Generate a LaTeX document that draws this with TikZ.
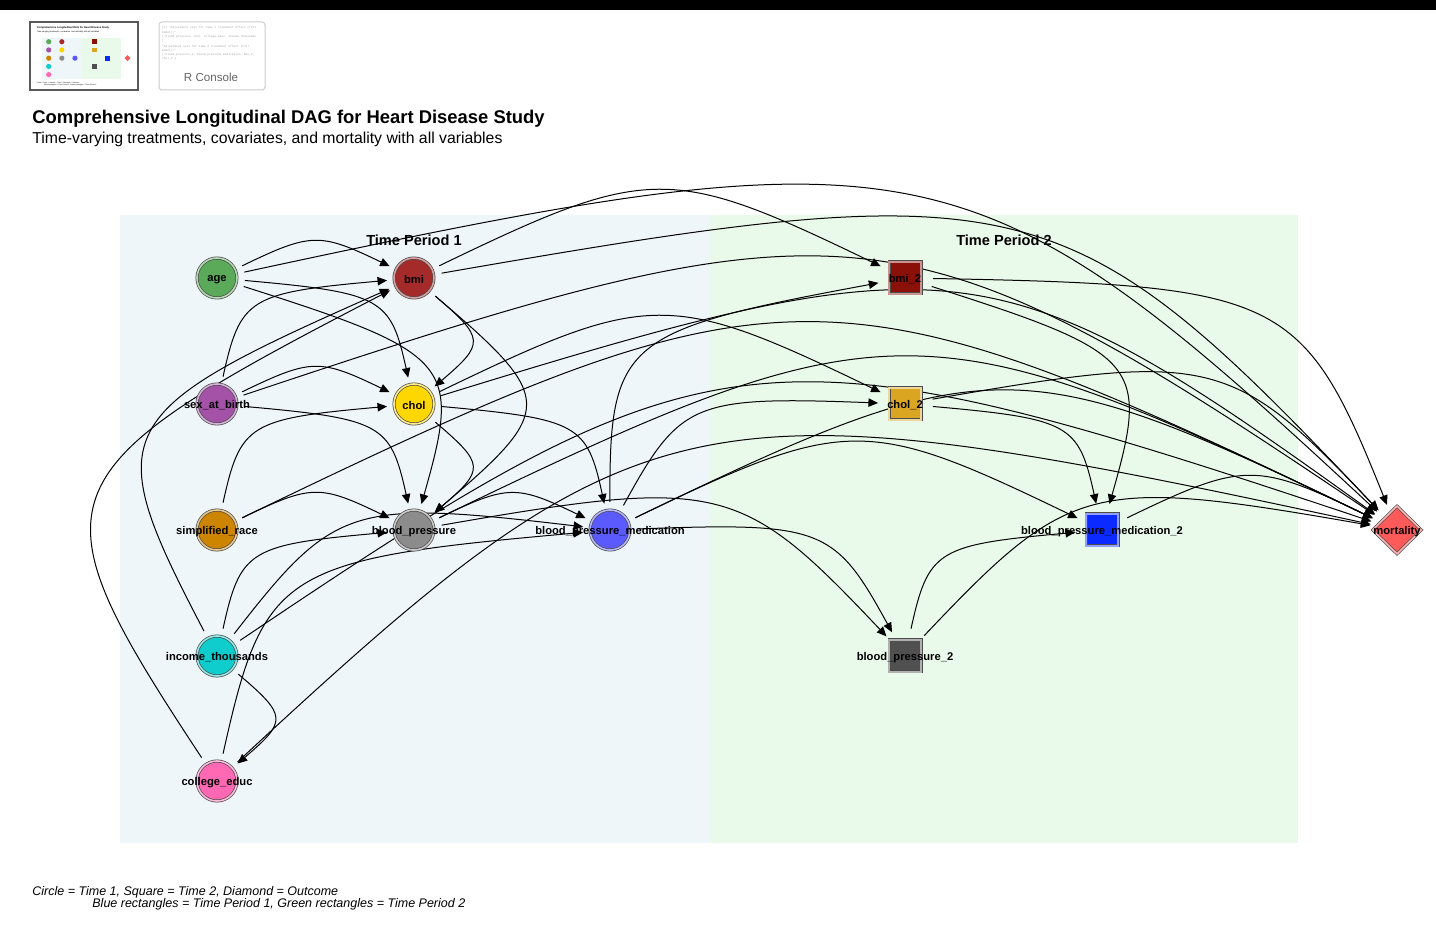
\documentclass[tikz,border=0pt]{standalone}
\usepackage{fontspec}
\setmainfont{Liberation Sans}
\setmonofont{Liberation Mono}
\usepackage{tikz}
\usetikzlibrary{arrows.meta,calc,shapes.geometric}
\definecolor{ageC}{HTML}{5AAA5A}
\definecolor{bmiC}{HTML}{A52A2A}
\definecolor{sexC}{HTML}{A352A8}
\definecolor{cholC}{HTML}{FFD700}
\definecolor{raceC}{HTML}{CD8500}
\definecolor{bpC}{HTML}{8C8C8C}
\definecolor{bpmedC}{HTML}{5A5AFF}
\definecolor{incomeC}{HTML}{10CDCD}
\definecolor{collegeC}{HTML}{FF69B4}
\definecolor{bmitwoC}{HTML}{8B1008}
\definecolor{choltwoC}{HTML}{DAA520}
\definecolor{bptwoC}{HTML}{505050}
\definecolor{bpmedtwoC}{HTML}{0A2AFF}
\definecolor{mortC}{HTML}{FF5A5A}
\definecolor{tpone}{HTML}{EFF6FA}
\definecolor{tptwo}{HTML}{EAFAEA}

\pgfdeclarelayer{bg}
\pgfdeclarelayer{edges}
\pgfsetlayers{bg,edges,main}

\tikzset{
  tone/.style={circle, minimum size=20pt, inner sep=0pt, fill=#1, draw=black!70,
    line width=0.35pt, double=#1!45!white, double distance=0.8pt},
  ttwo/.style={rectangle, minimum size=16pt, inner sep=0pt, fill=#1, draw=black!70,
    line width=0.35pt, double=#1!45!white, double distance=0.8pt},
  tout/.style={diamond, aspect=1, minimum width=24.5pt, minimum height=24pt, inner sep=0pt,
    fill=#1, draw=black!70, line width=0.35pt, double=#1!45!white, double distance=0.8pt},
  vlab/.style={font=\fontsize{5.6}{6}\selectfont\bfseries, inner sep=0pt, yshift=-0.8pt},
  perlab/.style={font=\fontsize{7.3}{8}\selectfont\bfseries, inner sep=0pt},
  dagedge/.style={line width=0.5pt, -{Triangle[length=4.8pt,width=4.2pt]},
    shorten <=14pt, shorten >=13.5pt},
}

% curved edge, bent the same way for every pair of nodes
\newcommand{\dagarc}[2]{%
  \draw[dagedge] let \p1=(#1), \p2=(#2),
    \p3=({0.4792*(\x2-\x1)-0.5633*(\y2-\y1)},{0.4792*(\y2-\y1)+0.2315*(\x2-\x1)}),
    \p4=({-0.4792*(\x2-\x1)-0.5633*(\y2-\y1)},{0.2315*(\x2-\x1)-0.4792*(\y2-\y1)})
    in (\p1) .. controls ({\x1+\x3},{\y1+\y3}) and ({\x2+\x4},{\y2+\y4}) .. (\p2);}

\begin{document}
\begin{tikzpicture}[x=0.5pt, y=0.5pt]

  % -- page, viewer bar and the two periods --------------------------------
  \begin{pgfonlayer}{bg}
    \fill[white] (0,0) rectangle (1436,926);
    \fill[black] (0,916) rectangle (1436,926);
    \fill[tpone] (120,83) rectangle (710,711);
    \fill[tptwo] (710,83) rectangle (1298,711);
  \end{pgfonlayer}
  \useasboundingbox (0,0) rectangle (1436,926);

  % -- thumbnails of the plot pane -----------------------------------------
  \draw[black!65, line width=0.9pt, fill=white] (30,836) rectangle (138,904);
  \fill[tpone] ({34.2+0.0668*120},{841.9+0.0654*83}) rectangle ({34.2+0.0668*710},{841.9+0.0654*711});
  \fill[tptwo] ({34.2+0.0668*710},{841.9+0.0654*83}) rectangle ({34.2+0.0668*1298},{841.9+0.0654*711});
  \foreach \px/\py/\cc in {217/648/ageC, 414/648/bmiC, 217/522/sexC, 414/522/cholC,
                           217/396/raceC, 414/396/bpC, 610/396/bpmedC, 217/270/incomeC,
                           217/145/collegeC}{
    \fill[\cc] ({34.2+0.0668*\px},{841.9+0.0654*\py}) circle[radius=2.6];}
  \foreach \px/\py/\cc in {905/648/bmitwoC, 905/522/choltwoC, 905/270/bptwoC, 1102/396/bpmedtwoC}{
    \fill[\cc] ({34.2+0.0668*\px-2.4},{841.9+0.0654*\py-2.4}) rectangle ++(4.8,4.8);}
  \fill[mortC] ({34.2+0.0668*1397},{841.9+0.0654*396}) +(-3,0) -- +(0,3) -- +(3,0) -- +(0,-3) -- cycle;
  \node[anchor=west, inner sep=0pt, font=\fontsize{1.3}{1.5}\selectfont\bfseries] (minititle)
    at (36.4,898.1) {Comprehensive Longitudinal DAG for Heart Disease Study};
  \node[anchor=west, inner sep=0pt, font=\fontsize{1.05}{1.2}\selectfont] (minisub)
    at (36.4,894.4) {Time-varying treatments, covariates, and mortality with all variables};
  \node[anchor=west, inner sep=0pt, font=\fontsize{0.87}{1}\selectfont\itshape] (minilega)
    at (36.4,843.1) {Circle = Time 1, Square = Time 2, Diamond = Outcome};
  \node[anchor=west, inner sep=0pt, font=\fontsize{0.87}{1}\selectfont\itshape] (minilegb)
    at (44,840.5) {Blue rectangles = Time Period 1, Green rectangles = Time Period 2};

  \draw[black!20, line width=0.5pt, fill=white, rounded corners=1.5pt] (159,836) rectangle (265,904);
  \node[anchor=north west, inner sep=0pt, align=left, text=black!35,
        font=\fontsize{1.45}{2.05}\selectfont\ttfamily] (consoletext) at (161.8,899.5)
    {[1] "Adjustment sets for time 1 treatment effect (full\\
     model):"\\
     \{ blood\_pressure, chol, college\_educ, income\_thousands\\
     \}\\
     [1] "Adjustment sets for time 2 treatment effect (full\\
     model):"\\
     \{ blood\_pressure\_2, blood\_pressure\_medication, bmi\_2,\\
     chol\_2 \}};
  \node[text=black!60, inner sep=0pt, font=\fontsize{5.8}{6}\selectfont] (consolename)
    at (211,848.7) {R Console};

  % -- titles ---------------------------------------------------------------
  \node[anchor=west, inner sep=0pt, font=\fontsize{9.2}{11}\selectfont\bfseries] (title)
    at (32,807.5) {Comprehensive Longitudinal DAG for Heart Disease Study};
  \node[anchor=west, inner sep=0pt, font=\fontsize{7.9}{9}\selectfont] (subtitle)
    at (32,787) {Time-varying treatments, covariates, and mortality with all variables};
  \node[perlab] (tpa) at (414,686) {Time Period 1};
  \node[perlab] (tpb) at (1004,686) {Time Period 2};

  % -- the variables: circles at time 1, squares at time 2 ------------------
  \node[tone=ageC,     label={[vlab]center:age}]              (age)     at (217,648) {};
  \node[tone=bmiC,     label={[vlab]center:bmi}]              (bmi)     at (414,648) {};
  \node[tone=sexC,     label={[vlab]center:sex\_at\_birth}]   (sex)     at (217,522) {};
  \node[tone=cholC,    label={[vlab]center:chol}]             (chol)    at (414,522) {};
  \node[tone=raceC,    label={[vlab]center:simplified\_race}] (race)    at (217,396) {};
  \node[tone=bpC,      label={[vlab]center:blood\_pressure}]  (bp)      at (414,396) {};
  \node[tone=bpmedC,   label={[vlab]center:blood\_pressure\_medication}] (bpmed) at (610,396) {};
  \node[tone=incomeC,  label={[vlab]center:income\_thousands}] (income) at (217,270) {};
  \node[tone=collegeC, label={[vlab]center:college\_educ}]    (college) at (217,145) {};
  \node[ttwo=bmitwoC,  label={[vlab]center:bmi\_2}]           (bmib)    at (905,648) {};
  \node[ttwo=choltwoC, label={[vlab]center:chol\_2}]          (cholb)   at (905,522) {};
  \node[ttwo=bptwoC,   label={[vlab]center:blood\_pressure\_2}] (bpb)   at (905,270) {};
  \node[ttwo=bpmedtwoC, label={[vlab]center:blood\_pressure\_medication\_2}] (bpmedb) at (1102,396) {};
  \node[tout=mortC,    label={[vlab]center:mortality}]        (mort)    at (1397,396) {};

  % -- the arrows -----------------------------------------------------------
  \begin{pgfonlayer}{edges}
    \foreach \a/\b in {age/bmi, sex/bmi, income/bmi, college/bmi,
                       age/chol, sex/chol, race/chol, bmi/chol,
                       age/bp, sex/bp, race/bp, income/bp, bmi/bp, chol/bp,
                       bp/bpmed, chol/bpmed, income/bpmed, college/bpmed,
                       income/college,
                       bmi/bmib, bpmed/bmib, chol/cholb, bpmed/cholb,
                       bp/bpb, bpmed/bpb,
                       bmib/bpmedb, cholb/bpmedb, bpb/bpmedb, bpmed/bpmedb,
                       age/mort, sex/mort, race/mort, income/mort, college/mort,
                       bmi/mort, chol/mort, bp/mort, bpmed/mort,
                       bmib/mort, cholb/mort, bpb/mort, bpmedb/mort}{
      \dagarc{\a}{\b}}
  \end{pgfonlayer}

  % -- legend ---------------------------------------------------------------
  \node[anchor=west, inner sep=0pt, font=\fontsize{6.25}{7}\selectfont\itshape] (lega)
    at (32,33.5) {Circle = Time 1, Square = Time 2, Diamond = Outcome};
  \node[anchor=west, inner sep=0pt, font=\fontsize{6.25}{7}\selectfont\itshape] (legb)
    at (92,21.5) {Blue rectangles = Time Period 1, Green rectangles = Time Period 2};

\end{tikzpicture}
\end{document}
